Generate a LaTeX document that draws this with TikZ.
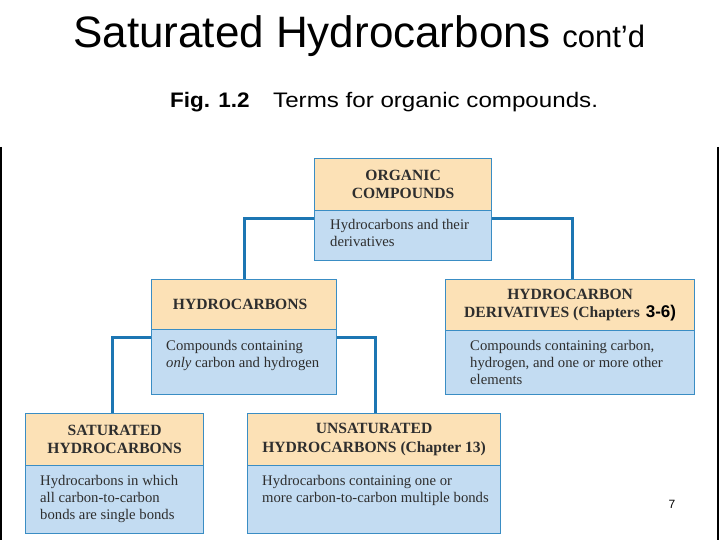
\documentclass[tikz,border=0pt]{standalone}
\usepackage{fontspec}
\setmainfont{Liberation Serif}
\setsansfont{Liberation Sans}
\newfontfamily\figfontA[FakeStretch=1.07]{Liberation Sans}
\newfontfamily\figfontB[FakeStretch=1.15]{Liberation Sans}
\usetikzlibrary{backgrounds}
\definecolor{hdr}{HTML}{FCE1B6}
\definecolor{bdy}{HTML}{C3DCF2}
\definecolor{brd}{HTML}{3A8DC4}
\definecolor{con}{HTML}{1C76B3}
\definecolor{txt}{HTML}{2E2E2E}
\tikzset{
  part/.style={draw=brd, line width=1.2pt, inner sep=0pt, anchor=north west, rectangle},
  hdrbox/.style={part, fill=hdr, font=\bfseries\fontsize{15.6}{18.5}\selectfont, text=txt, align=center},
  bdybox/.style={part, fill=bdy},
  btext/.style={anchor=north west, inner sep=0pt, align=left, font=\fontsize{14.7}{16.8}\selectfont, text=txt},
  conn/.style={draw=con, line width=3pt},
}
\begin{document}
\begin{tikzpicture}[x=1pt,y=-1pt]
\useasboundingbox (0,0) rectangle (720,540);
% title
\node[anchor=base west, inner sep=0pt, font=\sffamily\fontsize{44}{48}\selectfont] (title) at (73,48)
  {Saturated Hydrocarbons {\fontsize{31}{34}\selectfont cont’d}};
\node[anchor=base west, inner sep=0pt, font=\figfontA\bfseries\fontsize{21}{24}\selectfont] (fig) at (170,108)
  {Fig. 1.2};
\node[anchor=base west, inner sep=0pt, font=\figfontB\fontsize{21}{24}\selectfont] (sub) at (273,108)
  {Terms for organic compounds.};
% frame edges
\draw[black, line width=1.5pt] (1,147) -- (1,540);
\draw[black, line width=1.5pt] (718,147) -- (718,540);
% boxes
\node[hdrbox, minimum width=177pt, minimum height=52pt] (org) at (314,158) {ORGANIC\\COMPOUNDS};
\node[bdybox, minimum width=177pt, minimum height=50pt] (orgb) at (314,210) {};
\node[hdrbox, minimum width=185pt, minimum height=50pt] (hyd) at (151,279) {\hspace*{-8pt}HYDROCARBONS};
\node[bdybox, minimum width=185pt, minimum height=65pt] (hydb) at (151,329) {};
\node[hdrbox, minimum width=249pt, minimum height=51pt] (der) at (445,279)
  {HYDROCARBON\\DERIVATIVES (Chapters\hspace{2pt} {\sffamily\fontsize{17}{18}\selectfont\color{black} 3-6)}};
\node[bdybox, minimum width=249pt, minimum height=64pt] (derb) at (445,330) {};
\node[hdrbox, minimum width=178pt, minimum height=52pt] (sat) at (25,413) {SATURATED\\HYDROCARBONS};
\node[bdybox, minimum width=178pt, minimum height=68pt] (satb) at (25,465) {};
\node[hdrbox, minimum width=253pt, minimum height=52pt] (uns) at (247,413) {UNSATURATED\\HYDROCARBONS (Chapter 13)};
\node[bdybox, minimum width=253pt, minimum height=68pt] (unsb) at (247,465) {};
% body texts
\node[btext] (orgt) at (330,219.5) {Hydrocarbons and their\\derivatives};
\node[btext] (hydt) at (166,340.5) {Compounds containing\\\textit{only} carbon and hydrogen};
\node[btext] (dert) at (470,340.5) {Compounds containing carbon,\\hydrogen, and one or more other\\elements};
\node[btext] (satt) at (40,475.5) {Hydrocarbons in which\\all carbon-to-carbon\\bonds are single bonds};
\node[btext] (unst) at (262,475.5) {Hydrocarbons containing one or\\more carbon-to-carbon multiple bonds};
% page number
\node[font=\sffamily\fontsize{12}{14}\selectfont, inner sep=0pt] (pg) at (672,504) {7};
% connectors
\begin{pgfonlayer}{background}
\draw[conn] ([yshift=-9pt]orgb.north west) -| (hyd.north);
\draw[conn] ([yshift=-9pt]orgb.north east) -| ([xshift=2.5pt]der.north);
\draw[conn] ([yshift=-8pt]hydb.north west) -| ([xshift=-2.5pt]sat.north);
\draw[conn] ([yshift=-8pt]hydb.north east) -| ([xshift=1.5pt]uns.north);
\end{pgfonlayer}
\end{tikzpicture}
\end{document}
